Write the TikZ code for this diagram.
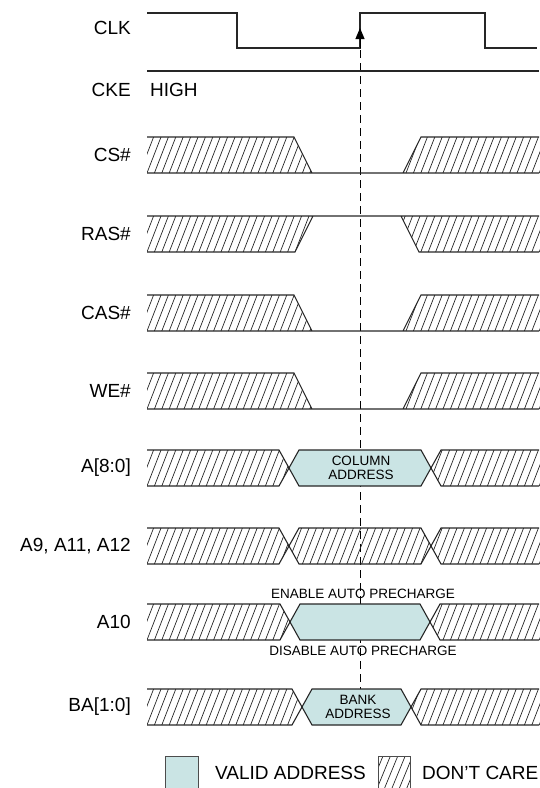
\documentclass[tikz,border=0pt]{standalone}
\usepackage{fontspec}
\setmainfont{Liberation Sans}
\usetikzlibrary{arrows.meta}
\definecolor{validfill}{RGB}{202,228,228}

\begin{document}
\begin{tikzpicture}[x=1pt,y=-1pt,
    wave/.style={line width=1.1pt,black!85},
    hatchline/.style={line width=0.7pt,black!85},
    marker/.style={line width=1pt,dash pattern=on 8pt off 5pt},
    lbl/.style={inner sep=0pt,font=\fontsize{19}{21}\selectfont},
    note/.style={inner sep=0pt,align=center,font=\fontsize{13.5}{14.5}\selectfont}]
\newcommand{\xl}{147}
\newcommand{\xr}{539}
% hatched region: #1 clip path, #2 top, #3 bottom
\newcommand{\dontcare}[3]{%
  \begin{scope}
    \clip #1;
    \foreach \hx in {110,117.4,...,560}
      \draw[hatchline] (\hx,#3) -- (\hx+14,#2);
  \end{scope}}
% low pulse, #1 top, #2 bottom
\newcommand{\lowrow}[2]{%
  \dontcare{(\xl,#1) -- (294,#1) -- (312,#2) -- (\xl,#2) -- cycle}{#1}{#2}
  \dontcare{(403,#2) -- (421,#1) -- (\xr+5,#1) -- (\xr+5,#2) -- cycle}{#1}{#2}
  \draw[wave] (\xl,#1) -- (294,#1) -- (312,#2)
              (\xl,#2) -- (\xr,#2)
              (403,#2) -- (421,#1) -- (\xr,#1);}
% high pulse
\newcommand{\highrow}[2]{%
  \dontcare{(\xl,#1) -- (313,#1) -- (295,#2) -- (\xl,#2) -- cycle}{#1}{#2}
  \dontcare{(401,#1) -- (419,#2) -- (\xr+5,#2) -- (\xr+5,#1) -- cycle}{#1}{#2}
  \draw[wave] (\xl,#1) -- (\xr,#1)
              (\xl,#2) -- (295,#2) -- (313,#1)
              (401,#1) -- (419,#2) -- (\xr,#2);}
% bus, #3 #4 crossings, #5=1 valid middle
\newcommand{\busrow}[5]{%
  \dontcare{(\xl,#1) -- (#3-10,#1) -- (#3,#1/2+#2/2) -- (#3-10,#2) -- (\xl,#2) -- cycle}{#1}{#2}
  \dontcare{(#4+10,#1) -- (#4,#1/2+#2/2) -- (#4+10,#2) -- (\xr+5,#2) -- (\xr+5,#1) -- cycle}{#1}{#2}
  \ifnum#5=1
    \fill[validfill] (#3,#1/2+#2/2) -- (#3+10,#1) -- (#4-10,#1) -- (#4,#1/2+#2/2)
      -- (#4-10,#2) -- (#3+10,#2) -- cycle;
  \else
    \dontcare{(#3,#1/2+#2/2) -- (#3+10,#1) -- (#4-10,#1) -- (#4,#1/2+#2/2)
      -- (#4-10,#2) -- (#3+10,#2) -- cycle}{#1}{#2}
  \fi
  \draw[wave] (\xl,#1) -- (#3-10,#1) -- (#3+10,#2) -- (#4-10,#2) -- (#4+10,#1) -- (\xr,#1)
              (\xl,#2) -- (#3-10,#2) -- (#3+10,#1) -- (#4-10,#1) -- (#4+10,#2) -- (\xr,#2);}

\useasboundingbox (0,0) rectangle (539,788);

% clock edge marker
\draw[marker] (360,50) -- (360,707);

\draw[wave] (\xl,13) -- (237,13) -- (237,48) -- (360,48) -- (360,13)
  -- (485,13) -- (485,48) -- (537,48);
\draw[-{Triangle[length=11pt,width=9pt]},line width=1pt] (360,48) -- (360,28);
\draw[wave] (\xl,71) -- (\xr,71);

\lowrow{137}{173}
\highrow{216}{252}
\lowrow{295}{331}
\lowrow{373}{409}
\busrow{450}{486}{289}{431}{1}
\busrow{528}{564}{289}{431}{0}
\busrow{604}{640}{290}{430}{1}
\busrow{689}{725}{302}{411}{1}

\path (131,28) node (clk) [lbl,anchor=east] {CLK}
      (131,90) node (cke) [lbl,anchor=east] {CKE}
      (150,90) node (high) [lbl,anchor=west] {HIGH}
      (131,155) node (cs) [lbl,anchor=east] {CS\#}
      (131,234) node (ras) [lbl,anchor=east] {RAS\#}
      (131,313) node (cas) [lbl,anchor=east] {CAS\#}
      (131,391) node (we) [lbl,anchor=east] {WE\#}
      (131,468) node (addr) [lbl,anchor=east] {A[8:0]}
      (131,546) node (aux) [lbl,anchor=east] {A9, A11, A12}
      (131,622) node (aten) [lbl,anchor=east] {A10}
      (131,707) node (bank) [lbl,anchor=east] {BA[1:0]};

\path (361,468) node (coladdr) [note] {COLUMN\\ADDRESS}
      (363,594) node (enap) [note] {ENABLE AUTO PRECHARGE}
      (363,651) node (disap) [note] {DISABLE AUTO PRECHARGE}
      (358,707) node (bankaddr) [note] {BANK\\ADDRESS};

% legend
\fill[validfill] (165,756) rectangle (198,790);
\draw[line width=0.8pt,black!70] (165,756) rectangle (198,790);
\dontcare{(378,756) rectangle (410,790)}{756}{790}
\draw[line width=0.8pt,black!70] (378,756) rectangle (410,790);
\path (215,773) node (validkey) [lbl,anchor=west] {VALID ADDRESS}
      (422,773) node (dckey) [lbl,anchor=west] {DON'T CARE};

\end{tikzpicture}
\end{document}
